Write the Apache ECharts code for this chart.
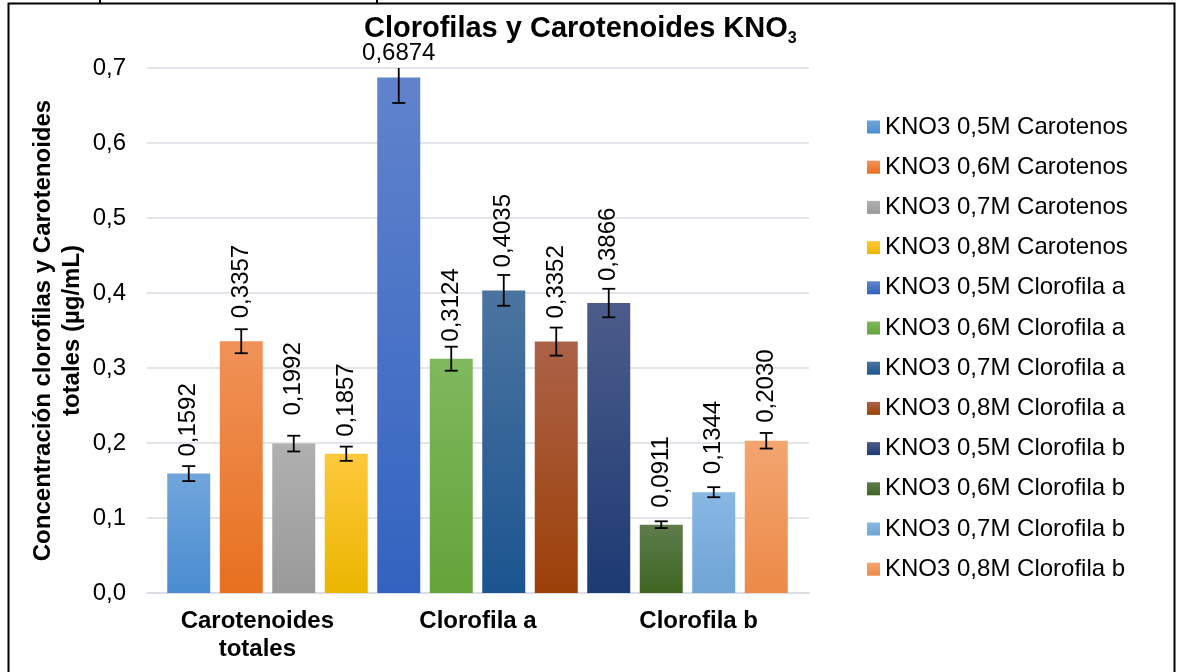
<!DOCTYPE html>
<html>
<head>
<meta charset="utf-8">
<title>Clorofilas y Carotenoides KNO3</title>
<script src="https://cdn.jsdelivr.net/npm/echarts@6/dist/echarts.min.js"></script>
<style>
  html, body { margin: 0; padding: 0; background: #fff; }
  #chart { width: 1178px; height: 672px; }
</style>
</head>
<body>
<div id="chart"></div>
<script>
// Pigment groups shown on the horizontal axis
const categories = ['Carotenoides\ntotales', 'Clorofila a', 'Clorofila b'];

// One series per KNO3 concentration / pigment pair
const seriesNames = [
  'KNO3 0,5M Carotenos', 'KNO3 0,6M Carotenos', 'KNO3 0,7M Carotenos', 'KNO3 0,8M Carotenos',
  'KNO3 0,5M Clorofila a', 'KNO3 0,6M Clorofila a', 'KNO3 0,7M Clorofila a', 'KNO3 0,8M Clorofila a',
  'KNO3 0,5M Clorofila b', 'KNO3 0,6M Clorofila b', 'KNO3 0,7M Clorofila b', 'KNO3 0,8M Clorofila b'
];

// Mean concentration (µg/mL) for each series
const values = [0.1592, 0.3357, 0.1992, 0.1857, 0.6874, 0.3124, 0.4035, 0.3352, 0.3866, 0.0911, 0.1344, 0.2030];

// Error bar half-lengths (µg/mL)
const errors = [0.010, 0.016, 0.0105, 0.0095, 0.034, 0.016, 0.0205, 0.0187, 0.019, 0.0045, 0.0067, 0.0104];

// Value axis range
const yMin = 0, yMax = 0.7, yStep = 0.1;

// Gradient fills (top, bottom) for each series
const fills = [
  ['#70a5dc', '#4a8dd0'], ['#f09258', '#e8701f'], ['#b0b0b0', '#9a9a9a'], ['#ffc83c', '#eab600'],
  ['#6183cc', '#3263c0'], ['#80b85e', '#64a43a'], ['#4c74a0', '#1b5590'], ['#ac6248', '#9c4008'],
  ['#4c5c8a', '#1d3a73'], ['#5e7c4c', '#3f6623'], ['#88b7e3', '#6fa4d6'], ['#f3a570', '#ec8a48']
];
// Space between bar top and its value label
const labelGap = [17, 23, 28, 17, 12, 17, 23, 23, 22, 17, 18, 18];

const FONT = '"Liberation Sans", Arial, sans-serif';
const fmt4 = v => v.toFixed(4).replace('.', ',');
const fmt1 = v => v.toFixed(1).replace('.', ',');
const grad = c => new echarts.graphic.LinearGradient(0, 0, 0, 1, [
  { offset: 0, color: c[0] }, { offset: 1, color: c[1] }
]);

const slots = values.map((_, i) => 'b' + i);

const barSeries = seriesNames.map((name, i) => ({
  type: 'bar',
  name: name,
  xAxisIndex: 1,
  yAxisIndex: 1,
  barWidth: 43,
  barGap: '-100%',
  itemStyle: { color: grad(fills[i]) },
  label: {
    show: true,
    position: 'top',
    distance: labelGap[i],
    rotate: 90,
    align: 'left',
    verticalAlign: 'middle',
    fontSize: 24,
    fontFamily: FONT,
    color: '#000',
    formatter: p => fmt4(p.value)
  },
  data: values.map((v, j) => {
    if (j !== i) return null;
    if (v > yMax - 0.05) {
      // tallest bar: label sits flat above the plot
      return { value: v, label: { rotate: 0, align: 'center', verticalAlign: 'bottom' } };
    }
    return v;
  })
}));

const errorSeries = {
  type: 'custom',
  name: 'error',
  xAxisIndex: 1,
  yAxisIndex: 1,
  z: 10,
  silent: true,
  encode: { x: 0, y: 1 },
  data: values.map((v, i) => [i, v, errors[i]]),
  renderItem: function (params, api) {
    const x = api.value(0), v = api.value(1), e = api.value(2);
    const hiV = Math.min(v + e, yMax);
    const pHi = api.coord([x, hiV]);
    const pLo = api.coord([x, v - e]);
    const w = 6.5;
    const st = { stroke: '#000', lineWidth: 1.8 };
    const children = [
      { type: 'line', shape: { x1: pHi[0], y1: pHi[1], x2: pLo[0], y2: pLo[1] }, style: st },
      { type: 'line', shape: { x1: pLo[0] - w, y1: pLo[1], x2: pLo[0] + w, y2: pLo[1] }, style: st }
    ];
    if (v + e <= yMax) {
      children.push({ type: 'line', shape: { x1: pHi[0] - w, y1: pHi[1], x2: pHi[0] + w, y2: pHi[1] }, style: st });
    }
    return { type: 'group', children: children };
  }
};

const chart = echarts.init(document.getElementById('chart'), null, { renderer: 'canvas' });

chart.setOption({
  animation: false,
  backgroundColor: '#fff',
  title: {
    text: '{m|Clorofilas y Carotenoides KNO}{s|3}',
    left: 359,
    top: 9,
    textStyle: {
      rich: {
        m: { fontSize: 29, fontWeight: 'bold', fontFamily: FONT, color: '#000', padding: [0, 0, 4, 0], verticalAlign: 'bottom' },
        s: { fontSize: 16, fontWeight: 'bold', fontFamily: FONT, color: '#000', verticalAlign: 'bottom' }
      }
    }
  },
  legend: {
    data: seriesNames,
    orient: 'vertical',
    left: 867,
    top: 115,
    padding: 0,
    itemWidth: 13,
    itemHeight: 13,
    itemGap: 16.2,
    icon: 'rect',
    textStyle: { fontSize: 24, fontFamily: FONT, color: '#000' }
  },
  grid: [
    { left: 147, right: 369, top: 68, bottom: 79 },
    { left: 162.5, right: 385.5, top: 68, bottom: 79 }
  ],
  xAxis: [
    {
      gridIndex: 0,
      type: 'category',
      data: categories,
      axisTick: { show: false },
      axisLine: { lineStyle: { color: '#d9dce3', width: 1.5 } },
      axisLabel: {
        interval: 0, fontSize: 24, fontWeight: 'bold', lineHeight: 28,
        margin: 14, color: '#000', fontFamily: FONT
      }
    },
    { gridIndex: 1, type: 'category', data: slots, show: false }
  ],
  yAxis: [
    {
      gridIndex: 0,
      type: 'value',
      min: yMin, max: yMax, interval: yStep,
      name: 'Concentración clorofilas y Carotenoides\ntotales (µg/mL)',
      nameLocation: 'middle',
      nameGap: 60,
      nameMoveOverlap: false,
      nameTextStyle: { fontSize: 24, fontWeight: 'bold', lineHeight: 29, fontFamily: FONT, color: '#000' },
      axisLine: { show: false },
      axisTick: { show: false },
      axisLabel: { fontSize: 24, fontFamily: FONT, color: '#000', margin: 21, formatter: fmt1 },
      splitLine: { lineStyle: { color: '#d9dce3', width: 1.5 } }
    },
    { gridIndex: 1, type: 'value', min: yMin, max: yMax, show: false }
  ],
  graphic: [
    { type: 'rect', shape: { x: 8.5, y: 3.5, width: 1166, height: 700 }, style: { fill: 'none', stroke: '#000', lineWidth: 2 }, silent: true },
    { type: 'line', shape: { x1: 100, y1: 0, x2: 100, y2: 3.5 }, style: { stroke: '#000', lineWidth: 2 }, silent: true },
    { type: 'line', shape: { x1: 377, y1: 0, x2: 377, y2: 3.5 }, style: { stroke: '#000', lineWidth: 2 }, silent: true }
  ],
  series: barSeries.concat([errorSeries])
});
</script>
</body>
</html>
